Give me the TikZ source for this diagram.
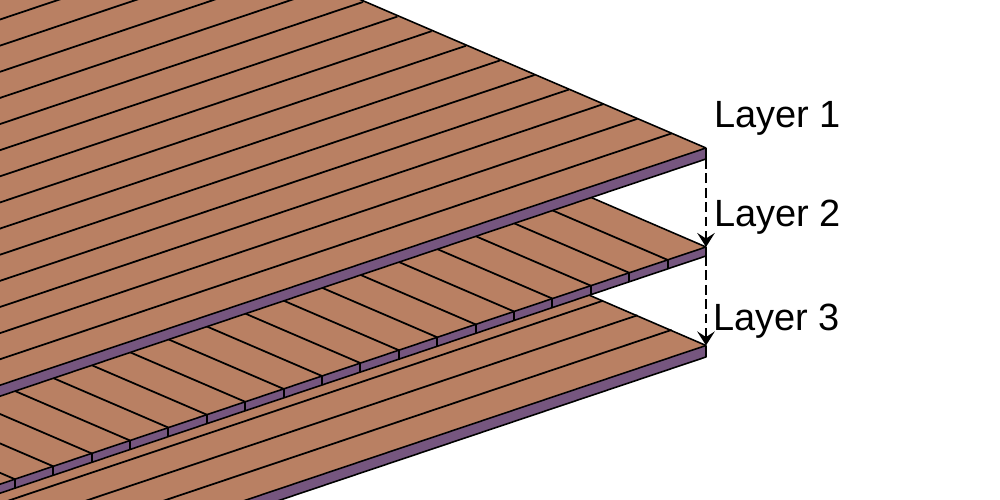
\documentclass[tikz,border=0pt]{standalone}
\usepackage{fontspec}
\setmainfont{Liberation Sans}
\usetikzlibrary{arrows.meta}
\definecolor{plank}{HTML}{B98063}
\definecolor{edgeside}{HTML}{76567F}
\tikzset{
  seam/.style={black,line width=.5pt},
  tick/.style={black,line width=.6pt},
  outline/.style={black,line width=.45pt,line join=round},
  gap/.style={black,line width=.45pt,dash pattern=on 2.8pt off 1.3pt,-{Stealth[length=4pt,width=5pt,inset=1.6pt]}},
  layerlabel/.style={anchor=base west,inner sep=0pt,font=\fontsize{10.8}{12}\selectfont}
}
\begin{document}
\begin{tikzpicture}[x=.1mm,y=-.1mm]
\useasboundingbox (0,0) rectangle (1000,500);
\begin{scope}
\clip (0,0) rectangle (1000,500);
% layer 3
\coordinate (c3) at (706,345.5);
\coordinate (s3) at (706,357);
\fill[plank] (c3) -- (300,170.5) -- (-300,170.5) -- (-300,683.5) -- cycle;
\fill[edgeside] (c3) -- (s3) -- (-300,695) -- (-300,683.5) -- cycle;
\draw[outline] (c3) -- (s3) -- (-300,695);
\draw[outline] (c3) -- (-300,683.5);
\draw[outline] (c3) -- (300,170.5);
\foreach \k in {1,2,3}\draw[seam] (706-34.3*\k,344.5-14.6*\k) -- ++(-800,269);
% layer 2
\coordinate (c2) at (706,247);
\coordinate (s2) at (706,256);
\fill[plank] (c2) -- (300,72) -- (-300,72) -- (-300,585) -- cycle;
\fill[edgeside] (c2) -- (s2) -- (-300,594) -- (-300,585) -- cycle;
\draw[outline] (c2) -- (s2) -- (-300,594);
\draw[outline] (c2) -- (-300,585);
\draw[outline] (c2) -- (300,72);
\foreach \k in {1,...,18}{
  \draw[tick] (706-38.4*\k,247+12.9*\k) -- ++(0,9.5);
  \draw[seam] (706-38.4*\k,247+12.9*\k) -- ++(-400,-172);
}
% layer 1
\coordinate (c1) at (706,148);
\coordinate (s1) at (706,159);
\fill[plank] (c1) -- (310,-22) -- (-300,-22) -- (-300,486) -- cycle;
\fill[edgeside] (c1) -- (s1) -- (-300,497) -- (-300,486) -- cycle;
\draw[outline] (c1) -- (s1) -- (-300,497);
\draw[outline] (c1) -- (-300,486);
\draw[outline] (c1) -- (310,-22);
\foreach \k in {1,...,15}\draw[seam] (706-34.3*\k,148-14.6*\k) -- ++(-800,269);
\end{scope}
% gaps between the layers
\draw[gap] (s1) -- (c2);
\draw[gap] (s2) -- (c3);
\node[layerlabel] (l1) at (713.5,128) {Layer 1};
\node[layerlabel] (l2) at (713.5,227) {Layer 2};
\node[layerlabel] (l3) at (712.5,331) {Layer 3};
\end{tikzpicture}
\end{document}
